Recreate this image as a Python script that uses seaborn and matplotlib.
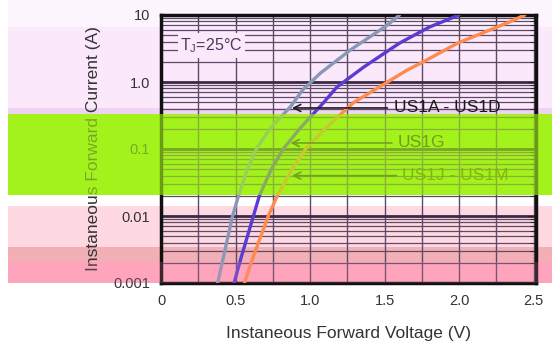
import pandas as pd
import seaborn as sns
import matplotlib.pyplot as plt
from matplotlib.patches import Rectangle
from matplotlib.ticker import FixedLocator, FixedFormatter, MultipleLocator, LogLocator, NullFormatter

# forward characteristics (current in A, voltage in V)
current_a_d = [0.001, 0.0025, 0.01, 0.02, 0.05, 0.1, 0.2, 0.43, 0.76, 1.36, 3.0, 7.1, 10]
voltage_a_d = [0.38, 0.42, 0.48, 0.52, 0.58, 0.64, 0.73, 0.87, 0.95, 1.07, 1.27, 1.52, 1.60]

current_g = [0.001, 0.0025, 0.01, 0.02, 0.05, 0.1, 0.2, 0.49, 0.84, 1.67, 3.8, 6.6, 10]
voltage_g = [0.49, 0.54, 0.62, 0.66, 0.74, 0.82, 0.93, 1.09, 1.18, 1.36, 1.60, 1.80, 2.00]

current_j_m = [0.001, 0.0025, 0.01, 0.02, 0.05, 0.1, 0.2, 0.49, 1.0, 1.5, 2.0, 3.8, 7.9, 10]
voltage_j_m = [0.56, 0.62, 0.72, 0.78, 0.88, 0.97, 1.10, 1.29, 1.52, 1.65, 1.76, 1.99, 2.34, 2.44]

series_names = ["US1A - US1D", "US1G", "US1J - US1M"]
series_colors = ["#8a98b8", "#5a3cd2", "#ff8a4c"]

x_ticks = [0, 0.5, 1.0, 1.5, 2.0, 2.5]
x_tick_labels = ["0", "0.5", "1.0", "1.5", "2.0", "2.5"]
y_ticks = [0.001, 0.01, 0.1, 1, 10]
y_tick_labels = ["0.001", "0.01", "0.1", "1.0", "10"]

frames = []
for name, cur, volt in zip(series_names,
                           [current_a_d, current_g, current_j_m],
                           [voltage_a_d, voltage_g, voltage_j_m]):
    frames.append(pd.DataFrame({"device": name, "current": cur, "voltage": volt}))
df = pd.concat(frames, ignore_index=True)

sns.set_style("white")
plt.rcParams["font.family"] = ["Liberation Sans", "DejaVu Sans"]
plt.rcParams["mathtext.default"] = "regular"

W, H = 552, 347
fig = plt.figure(figsize=(W / 100, H / 100), dpi=100)
ax = fig.add_axes([161 / W, 1 - 283 / H, 375 / W, 268 / H])
ax.set_facecolor("none")


def band(top, bottom, color, z=-5, alpha=1.0, left=8):
    # horizontal colour band given in pixel rows of the picture
    fig.patches.append(Rectangle((left / W, 1 - bottom / H), 1 - left / W, (bottom - top) / H,
                                 transform=fig.transFigure, facecolor=color, edgecolor="none",
                                 zorder=z, alpha=alpha))


band(0, 27, "#fdf5fd")
band(27, 108, "#fbe8fb")
band(108, 114, "#f0d2f2")
band(114, 195, "#a4f21c")
band(206, 247, "#ffd9e1")
band(247, 262, "#f2b0b6")
band(262, 283, "#ffa9c0")

sns.lineplot(data=df, x="voltage", y="current", hue="device", palette=series_colors,
             sort=False, estimator=None, linewidth=2.4, legend=False, ax=ax, zorder=3)

ax.set_yscale("log")
ax.set_xlim(0, 2.516)
ax.set_ylim(0.001, 10)

ax.xaxis.set_major_locator(FixedLocator(x_ticks))
ax.xaxis.set_major_formatter(FixedFormatter(x_tick_labels))
ax.xaxis.set_minor_locator(MultipleLocator(0.25))
ax.yaxis.set_major_locator(FixedLocator(y_ticks))
ax.yaxis.set_major_formatter(FixedFormatter(y_tick_labels))
ax.yaxis.set_minor_locator(LogLocator(base=10, subs=range(2, 10)))
ax.yaxis.set_minor_formatter(NullFormatter())

grid_col = "#5e4a68"
ax.grid(axis="x", which="both", color=grid_col, linewidth=1.0)
ax.grid(axis="y", which="major", color="#3a2a44", linewidth=2.0)
ax.grid(axis="y", which="minor", color=grid_col, linewidth=0.9)
ax.tick_params(which="both", direction="in", top=True, right=True, color="#222222")
ax.tick_params(which="major", length=6, labelsize=10.5, labelcolor="#333333", pad=8)
ax.tick_params(which="minor", length=4)
for sp in ax.spines.values():
    sp.set_linewidth(2.5)
    sp.set_color("#111111")

ax.set_xlabel("Instaneous Forward Voltage (V)", fontsize=12.5, color="#333333", labelpad=13)
ax.set_ylabel("Instaneous Forward Current (A)", fontsize=12.5, color="#333333", labelpad=9)

ax.text(0.13, 3.5, r"T$_J$=25°C", fontsize=11.5, color="#4a3a5a", va="center", zorder=4,
        bbox=dict(facecolor="#fbe8fb", edgecolor="none", pad=2))

arrow = dict(arrowstyle="->", color="#202020", lw=1.2)
ax.annotate(series_names[0], xy=(0.86, 0.41), xytext=(1.56, 0.41), fontsize=12.5,
            color="#1a1a1a", va="center", arrowprops=arrow, zorder=5)
ax.annotate(series_names[1], xy=(0.85, 0.123), xytext=(1.59, 0.123), fontsize=12.5,
            color="#1a1a1a", va="center", arrowprops=arrow, zorder=5)
ax.annotate(series_names[2], xy=(0.86, 0.04), xytext=(1.62, 0.04), fontsize=12.5,
            color="#5a5000", va="center", arrowprops=arrow, zorder=5)

# green tint laid over the middle band
band(114, 195, "#a4f21c", z=20, alpha=0.62)
band(262, 283, "#ff8fb0", z=20, alpha=0.18)

fig.savefig("out.png", dpi=100)
